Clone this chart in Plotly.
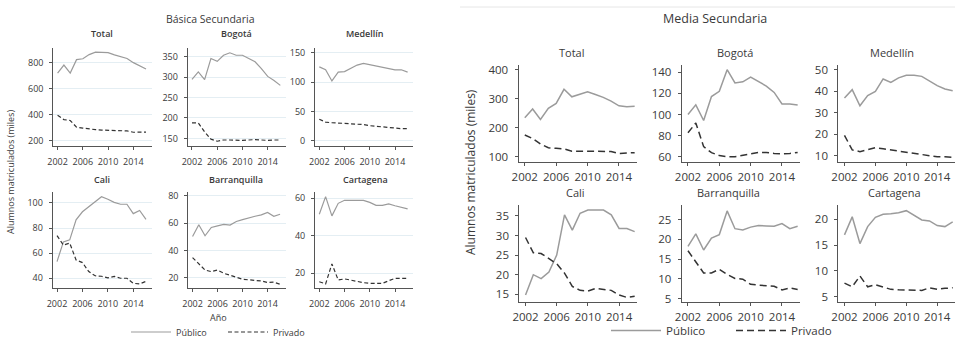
import plotly.graph_objects as go

# ---------------- data (thousands of enrolled students) ----------------
years = list(range(2002, 2017))

# Básica Secundaria
bas_total_pub = [718, 780, 718, 821, 828, 860, 878, 878, 875, 858, 845, 830, 798, 775, 749]
bas_total_priv = [395, 362, 355, 304, 297, 290, 285, 282, 280, 278, 276, 275, 265, 263, 266]
bas_bogota_pub = [295, 313, 294, 346, 339, 354, 360, 354, 354, 346, 338, 321, 302, 292, 280]
bas_bogota_priv = [188, 188, 166, 148, 143, 146, 146, 145, 145, 146, 147, 146, 145, 146, 146]
bas_medellin_pub = [126, 121, 102, 117, 118, 124, 129, 132, 130, 128, 126, 124, 121, 121, 117]
bas_medellin_priv = [37, 32, 31, 31, 30, 29, 29, 28, 26, 25, 24, 23, 21, 21, 21]
bas_cali_pub = [53.3, 69, 70.6, 86.6, 93, 97, 101, 105, 103, 100.5, 99, 99, 91.5, 94, 87]
bas_cali_priv = [74, 66.5, 68, 54.6, 52.5, 45.3, 42, 41.6, 40.3, 41.5, 40, 40, 36, 35.5, 37.5]
bas_barranquilla_pub = [50.1, 58.8, 50.7, 56.8, 58, 59, 58.5, 61.2, 62.5, 64, 65, 66, 67.8, 65, 66.5]
bas_barranquilla_priv = [34.7, 30.5, 25.6, 24.4, 25.6, 23.2, 21.5, 20.3, 18.8, 18.3, 17.8, 17.6, 16.4, 16.7, 15.2]
bas_cartagena_pub = [51.5, 60.9, 50.6, 57.3, 58.9, 58.9, 59.2, 58.9, 57.8, 56.2, 56.2, 57, 56, 55.3, 54.3]
bas_cartagena_priv = [15.5, 14.3, 25, 16.4, 17, 16.2, 15.5, 15, 14.6, 14.6, 14.6, 16, 17.3, 17.3, 17.3]

# Media Secundaria
med_total_pub = [235, 265, 229, 267, 284, 333, 307, 315, 324, 315, 305, 292, 276, 273, 274]
med_total_priv = [175, 163, 144, 131, 129, 127, 119, 118, 119, 119, 118, 118, 111, 112, 114]
med_bogota_pub = [100, 109.2, 94.3, 117, 122, 142.6, 130, 131, 135.6, 131, 127, 121, 110, 110, 109]
med_bogota_priv = [82.6, 92, 69.5, 63.8, 61, 60, 60, 61, 62.6, 64, 64, 63, 62.6, 63, 64]
med_medellin_pub = [36.9, 40.8, 33.3, 38, 40, 45.8, 44.2, 46.3, 47.5, 47.5, 47, 44.7, 42.7, 41.1, 40.3]
med_medellin_priv = [19.5, 12.7, 11.9, 12.7, 13.7, 13.2, 12.7, 12.2, 11.5, 11.1, 10.8, 10.3, 9.5, 9.5, 9.2]
med_cali_pub = [14.8, 20, 19, 20.7, 25, 35.3, 31.4, 35.7, 36.5, 36.5, 36.5, 35.3, 31.8, 31.8, 31]
med_cali_priv = [29.5, 25.6, 25.4, 24.1, 22.8, 20.4, 17, 16, 15.8, 16.5, 16.2, 16, 14.8, 14.2, 14.5]
med_barranquilla_pub = [18.2, 21.4, 17.3, 20.3, 21.2, 27.2, 22.7, 22.4, 23.1, 23.5, 23.4, 23.3, 24, 22.7, 23.3]
med_barranquilla_priv = [17.1, 14.4, 11.5, 11.5, 12.4, 11.1, 10.1, 9.9, 8.6, 8.4, 8.2, 8.1, 7.2, 7.7, 7.3]
med_cartagena_pub = [17, 20.5, 15.3, 18.6, 20.4, 21, 21.1, 21.3, 21.7, 20.8, 19.9, 19.7, 18.8, 18.6, 19.5]
med_cartagena_priv = [7.6, 6.9, 9, 6.9, 7.3, 6.9, 6.4, 6.3, 6.3, 6.3, 6.2, 6.7, 6.4, 6.6, 6.7]

city_names = ["Total", "Bogotá", "Medellín", "Cali", "Barranquilla", "Cartagena"]
x_ticks = [2002, 2006, 2010, 2014]
legend_labels = ["Público", "Privado"]

# ---------------- layout helpers ----------------
W, H = 955, 338
FONT = "Open Sans"
TXT = "#3a3a3a"
AXIS = "#555555"
PUB_COLOR = "#9b9b9b"
PRIV_COLOR = "#333333"


def xd(x0, x1):
    return [x0 / W, min(x1 / W, 1.0)]


def yd(top, bottom):
    return [1 - bottom / H, 1 - top / H]


# (pub, priv, x-pixels, y-pixels, y-range, y-ticks, title centre)
basica = [
    (bas_total_pub, bas_total_priv, (53.3, 151.7), (48.3, 145.7), [162, 908], [200, 400, 600, 800], (101.7, 34)),
    (bas_bogota_pub, bas_bogota_priv, (187.7, 286), (48.3, 145.7), [132, 371], [150, 200, 250, 300, 350], (236.7, 34)),
    (bas_medellin_pub, bas_medellin_priv, (315, 413.3), (48.3, 145.7), [-8, 157.5], [0, 50, 100, 150], (365, 34)),
    (bas_cali_pub, bas_cali_priv, (52.7, 151.7), (191.7, 288.3), [32, 109], [40, 60, 80, 100], (101.7, 179)),
    (bas_barranquilla_pub, bas_barranquilla_priv, (188.3, 285.7), (191.7, 288.3), [12.2, 83], [20, 40, 60, 80], (236, 179)),
    (bas_cartagena_pub, bas_cartagena_priv, (315, 413.3), (191.7, 287.7), [12.3, 63.5], [20, 40, 60], (365, 179)),
]
media = [
    (med_total_pub, med_total_priv, (518.5, 637), (65, 161.7), [82.7, 417], [100, 200, 300, 400], (572, 52.5)),
    (med_bogota_pub, med_bogota_priv, (681.7, 800), (65, 161.7), [55.2, 147], [60, 80, 100, 120, 140], (735, 52.5)),
    (med_medellin_pub, med_medellin_priv, (838.3, 955), (65, 161.7), [7.2, 52.3], [10, 20, 30, 40, 50], (891.7, 52.5)),
    (med_cali_pub, med_cali_priv, (519.3, 637), (205, 301.7), [13.1, 37.8], [15, 20, 25, 30, 35], (575, 192.3)),
    (med_barranquilla_pub, med_barranquilla_priv, (681.7, 800), (205, 301.7), [4.2, 28.7], [5, 10, 15, 20, 25], (728.3, 192.3)),
    (med_cartagena_pub, med_cartagena_priv, (838.3, 955), (205, 301.7), [4.0, 22.8], [5, 10, 15, 20], (894, 192.3)),
]

fig = go.Figure()
annotations = []
layout_axes = {}

groups = [
    dict(panels=basica, xr=[2001.32, 2016.9], fs=9, tfs=9, lw=1.2, dash="4px,2.5px",
         grid=True, legend="legend", standoff_y=4, standoff_x=4),
    dict(panels=media, xr=[2001.2, 2016.3], fs=11.5, tfs=11, lw=1.5, dash="7px,4px",
         grid=False, legend="legend2", standoff_y=4, standoff_x=1),
]

k = 0
for g in groups:
    for i, (pub, priv, xpx, ypx, yr, yt, tpos) in enumerate(g["panels"]):
        k += 1
        xa = "x" if k == 1 else f"x{k}"
        ya = "y" if k == 1 else f"y{k}"
        show = i == 0
        fig.add_trace(go.Scatter(
            x=years, y=pub, mode="lines", name=legend_labels[0],
            line=dict(color=PUB_COLOR, width=g["lw"]),
            xaxis=xa, yaxis=ya, showlegend=show, legend=g["legend"], cliponaxis=False))
        fig.add_trace(go.Scatter(
            x=years, y=priv, mode="lines", name=legend_labels[1],
            line=dict(color=PRIV_COLOR, width=g["lw"], dash=g["dash"]),
            xaxis=xa, yaxis=ya, showlegend=show, legend=g["legend"], cliponaxis=False))

        sfx = "" if k == 1 else str(k)
        layout_axes["xaxis" + sfx] = dict(
            domain=xd(*xpx), anchor=ya, range=g["xr"], tickvals=x_ticks,
            showline=True, linecolor=AXIS, linewidth=1, ticks="outside", ticklen=3,
            tickcolor=AXIS, showgrid=False, zeroline=False,
            ticklabelstandoff=g["standoff_x"],
            tickfont=dict(family=FONT, size=g["fs"], color=TXT))
        layout_axes["yaxis" + sfx] = dict(
            domain=yd(*ypx), anchor=xa, range=yr, tickvals=yt,
            showline=True, linecolor=AXIS, linewidth=1, ticks="outside", ticklen=3,
            tickcolor=AXIS, showgrid=g["grid"], gridcolor="#e4eef3", gridwidth=1,
            zeroline=False, ticklabelstandoff=g["standoff_y"],
            tickfont=dict(family=FONT, size=g["fs"], color=TXT))
        annotations.append(dict(
            text=city_names[i], x=tpos[0] / W, y=1 - tpos[1] / H, xref="paper", yref="paper",
            xanchor="center", yanchor="middle", showarrow=False,
            font=dict(family=FONT, size=g["tfs"], color=TXT, weight=600 if g["fs"] < 10 else 400)))

# panel titles and axis titles
annotations += [
    dict(text="Básica Secundaria", x=210 / W, y=1 - 19 / H, font=dict(family=FONT, size=10.5, color=TXT)),
    dict(text="Media Secundaria", x=715 / W, y=1 - 18.5 / H, font=dict(family=FONT, size=12.5, color=TXT)),
    dict(text="Alumnos matriculados (miles)", x=10 / W, y=1 - 172 / H, textangle=-90,
         font=dict(family=FONT, size=9, color=TXT)),
    dict(text="Alumnos matriculados (miles)", x=470 / W, y=1 - 172 / H, textangle=-90,
         font=dict(family=FONT, size=12, color=TXT)),
    dict(text="Año", x=218 / W, y=1 - 317.5 / H, font=dict(family=FONT, size=9, color=TXT)),
]
for a in annotations[-5:]:
    a.update(xref="paper", yref="paper", xanchor="center", yanchor="middle", showarrow=False)

fig.update_layout(
    width=W, height=H, margin=dict(l=0, r=0, t=0, b=0, autoexpand=False),
    paper_bgcolor="white", plot_bgcolor="white",
    annotations=annotations,
    shapes=[dict(type="line", xref="paper", yref="paper", x0=460 / W, x1=1, y0=1 - 7 / H, y1=1 - 7 / H,
                 line=dict(color="#e6e6e6", width=1))],
    legend=dict(orientation="h", x=223 / W, y=1 - 332 / H, xanchor="center", yanchor="middle",
                font=dict(family=FONT, size=9, color=TXT), bgcolor="rgba(0,0,0,0)",
                entrywidth=42, itemwidth=40),
    legend2=dict(orientation="h", x=731 / W, y=1 - 330.5 / H, xanchor="center", yanchor="middle",
                 font=dict(family=FONT, size=11.5, color=TXT), bgcolor="rgba(0,0,0,0)",
                 entrywidth=60, itemwidth=50),
    showlegend=True,
    **layout_axes,
)

fig.write_html("out.html")
